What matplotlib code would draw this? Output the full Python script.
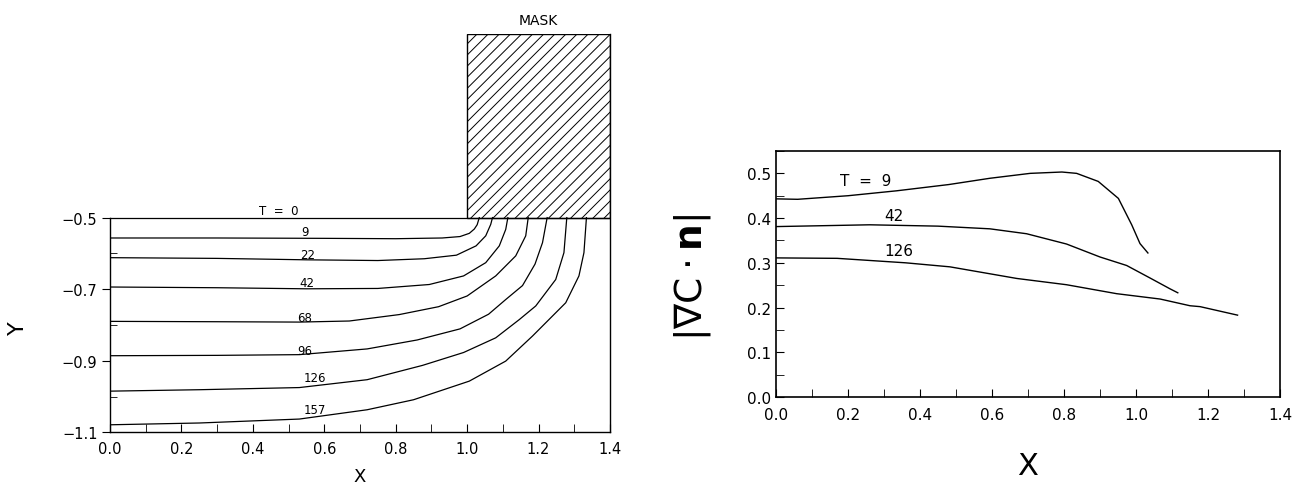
import numpy as np
import matplotlib
matplotlib.use("Agg")
from matplotlib import pyplot as plt
from matplotlib.patches import Rectangle
from matplotlib.ticker import MultipleLocator, FixedLocator, FuncFormatter

# ---- left panel: diffusion fronts under the mask edge ----
t0_x = [0.0, 1.4]
t0_y = [-0.5, -0.5]

t9_x = [0.0, 0.3, 0.6, 0.8, 0.93, 0.98, 1.006, 1.02, 1.028, 1.034]
t9_y = [-0.557, -0.557, -0.558, -0.559, -0.557, -0.553, -0.544, -0.532, -0.52, -0.5]

t22_x = [0.0, 0.3, 0.55, 0.75, 0.88, 0.97, 1.025, 1.052, 1.066, 1.071]
t22_y = [-0.612, -0.614, -0.618, -0.620, -0.615, -0.605, -0.579, -0.551, -0.519, -0.5]

t42_x = [0.0, 0.3, 0.55, 0.75, 0.894, 0.99, 1.052, 1.09, 1.108, 1.114]
t42_y = [-0.694, -0.696, -0.699, -0.698, -0.687, -0.663, -0.626, -0.579, -0.533, -0.5]

t68_x = [0.0, 0.3, 0.53, 0.67, 0.81, 0.92, 1.0, 1.08, 1.136, 1.164, 1.171]
t68_y = [-0.790, -0.791, -0.792, -0.789, -0.771, -0.749, -0.719, -0.663, -0.607, -0.551, -0.5]

t96_x = [0.0, 0.3, 0.53, 0.72, 0.86, 0.98, 1.06, 1.108, 1.155, 1.19, 1.211, 1.224]
t96_y = [-0.886, -0.885, -0.883, -0.867, -0.842, -0.811, -0.77, -0.729, -0.69, -0.63, -0.57, -0.5]

t126_x = [0.0, 0.25, 0.53, 0.72, 0.875, 0.99, 1.08, 1.146, 1.192, 1.248, 1.271, 1.279]
t126_y = [-0.985, -0.981, -0.975, -0.953, -0.913, -0.877, -0.836, -0.785, -0.747, -0.673, -0.598, -0.5]

t157_x = [0.0, 0.25, 0.53, 0.72, 0.85, 1.006, 1.108, 1.183, 1.229, 1.276, 1.313, 1.327, 1.334]
t157_y = [-1.079, -1.074, -1.063, -1.037, -1.009, -0.957, -0.901, -0.831, -0.785, -0.738, -0.663, -0.598, -0.5]

left_curves = [(t0_x, t0_y), (t9_x, t9_y), (t22_x, t22_y), (t42_x, t42_y),
               (t68_x, t68_y), (t96_x, t96_y), (t126_x, t126_y), (t157_x, t157_y)]
left_labels = ["T  =  0", "9", "22", "42", "68", "96", "126", "157"]
left_label_x = [0.472, 0.545, 0.554, 0.55, 0.545, 0.545, 0.573, 0.573]
left_label_y = [-0.48, -0.540, -0.603, -0.682, -0.778, -0.871, -0.946, -1.035]

# ---- right panel: |grad C . n| along the front ----
r9_x = [0.0, 0.06, 0.2, 0.335, 0.48, 0.594, 0.706, 0.794, 0.835, 0.895, 0.951, 0.988, 1.011, 1.033]
r9_y = [0.443, 0.442, 0.450, 0.461, 0.475, 0.489, 0.500, 0.503, 0.500, 0.482, 0.444, 0.385, 0.343, 0.322]

r42_x = [0.0, 0.26, 0.45, 0.594, 0.696, 0.807, 0.9, 0.974, 1.039, 1.094, 1.116]
r42_y = [0.381, 0.385, 0.382, 0.376, 0.365, 0.342, 0.313, 0.294, 0.266, 0.242, 0.233]

r126_x = [0.0, 0.17, 0.36, 0.483, 0.669, 0.807, 0.946, 1.067, 1.15, 1.178, 1.282]
r126_y = [0.311, 0.310, 0.300, 0.291, 0.265, 0.251, 0.231, 0.219, 0.204, 0.202, 0.183]

right_curves = [(r9_x, r9_y), (r42_x, r42_y), (r126_x, r126_y)]
right_labels = ["T  =  9", "42", "126"]
right_label_x = [0.25, 0.326, 0.34]
right_label_y = [0.484, 0.406, 0.327]

fmt = FuncFormatter(lambda v, p: "{:.1f}".format(v).replace("-", "\u2212"))

plt.rcParams['hatch.linewidth'] = 0.7
fig = plt.figure(figsize=(12.99, 4.85), dpi=100)

# left
ax1 = fig.add_axes([0.0847, 0.1066, 0.3849, 0.8212])
ax1.set_xlim(0, 1.4)
ax1.set_ylim(-1.1, 0.013)
for cx, cy in left_curves:
    ax1.plot(cx, cy, color='k', lw=0.9)
for lab, lx, ly in zip(left_labels, left_label_x, left_label_y):
    ax1.text(lx, ly, lab, fontsize=8.5, ha='center', va='center')
ax1.add_patch(Rectangle((1.0, -0.5), 0.4, 0.513, fill=False, hatch='///',
                        lw=1.0, edgecolor='k'))
ax1.text(1.2, 0.053, "MASK", fontsize=10, ha='center', va='center', clip_on=False)
ax1.spines['top'].set_visible(False)
ax1.spines['left'].set_bounds(-1.1, -0.5)
for s in ax1.spines.values():
    s.set_linewidth(1.0)
ax1.xaxis.set_major_locator(MultipleLocator(0.2))
ax1.xaxis.set_minor_locator(MultipleLocator(0.1))
ax1.yaxis.set_major_locator(FixedLocator([-1.1, -0.9, -0.7, -0.5]))
ax1.yaxis.set_minor_locator(FixedLocator([-1.0, -0.8, -0.6]))
ax1.xaxis.set_major_formatter(fmt)
ax1.yaxis.set_major_formatter(fmt)
ax1.tick_params(axis='x', which='both', direction='in', length=6, labelsize=10.5, pad=6)
ax1.tick_params(axis='y', which='major', direction='out', length=6, labelsize=10.5, pad=3)
ax1.tick_params(axis='y', which='minor', direction='in', length=5)
ax1.set_xlabel("X", fontsize=13)
ax1.xaxis.set_label_coords(0.5, -0.088)
ax1.set_ylabel("Y", fontsize=16)
ax1.yaxis.set_label_coords(-0.165, 0.264)

# right
ax2 = fig.add_axes([0.5974, 0.1794, 0.388, 0.5072])
ax2.set_xlim(0, 1.4)
ax2.set_ylim(0, 0.55)
for cx, cy in right_curves:
    ax2.plot(cx, cy, color='k', lw=1.0)
for lab, lx, ly in zip(right_labels, right_label_x, right_label_y):
    ax2.text(lx, ly, lab, fontsize=11, ha='center', va='center')
for s in ax2.spines.values():
    s.set_linewidth(1.2)
ax2.xaxis.set_major_locator(MultipleLocator(0.2))
ax2.xaxis.set_minor_locator(MultipleLocator(0.1))
ax2.yaxis.set_major_locator(MultipleLocator(0.1))
ax2.yaxis.set_minor_locator(MultipleLocator(0.05))
ax2.xaxis.set_major_formatter(fmt)
ax2.yaxis.set_major_formatter(fmt)
ax2.tick_params(which='both', direction='in', length=6, labelsize=11)
ax2.tick_params(axis='x', pad=7)
ax2.set_xlabel("X", fontsize=22)
ax2.xaxis.set_label_coords(0.5, -0.22)
ax2.set_ylabel(r"$|\nabla \mathrm{C}\cdot\mathbf{n}|$", fontsize=27)
ax2.yaxis.set_label_coords(-0.125, 0.49)

fig.savefig("out.png", dpi=100)
